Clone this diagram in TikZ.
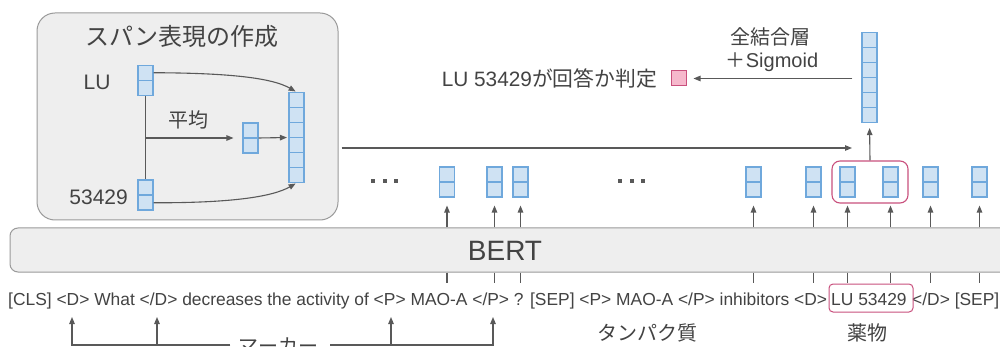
\documentclass[tikz,border=0pt]{standalone}
\usepackage{fontspec}
\setmainfont{Liberation Sans}
\newfontfamily\jp{Noto Sans CJK JP}
\usetikzlibrary{arrows.meta,calc}
\definecolor{vf}{HTML}{CFE2F3}
\definecolor{vb}{HTML}{6FA8DC}
\definecolor{boxg}{HTML}{EEEEEE}
\definecolor{boxb}{HTML}{9A9A9A}
\definecolor{tx}{HTML}{434343}
\definecolor{ln}{HTML}{595959}
\definecolor{pk}{HTML}{F6B8CC}
\definecolor{rd}{HTML}{C9507D}
\tikzset{
  cell/.style={draw=vb, fill=vf, line width=1.1pt, minimum width=15pt, inner sep=0pt},
  vectwo/.style={cell, minimum height=30pt,
    path picture={\draw[vb, line width=1.1pt] (path picture bounding box.west) -- (path picture bounding box.east);}},
  vecsix/.style={cell, minimum height=90pt,
    path picture={\foreach \i in {1,...,5}{\draw[vb, line width=1.1pt]
      ($(path picture bounding box.south west)!\i/6!(path picture bounding box.north west)$) --
      ($(path picture bounding box.south east)!\i/6!(path picture bounding box.north east)$);}}},
  arr/.style={draw=ln, line width=1.1pt, -{Triangle[length=7pt,width=5.5pt]}},
  plain/.style={draw=ln, line width=1.1pt},
  lbl/.style={text=tx, inner sep=0pt, font=\fontsize{20}{24}\selectfont},
  tok/.style={text=tx, inner sep=0pt, font=\fontsize{17.4}{20}\selectfont},
}
\begin{document}
\begin{tikzpicture}[x=1pt,y=-1pt]
\clip (0,0) rectangle (1000,347);
\fill[white] (0,0) rectangle (1000,347);

% ---- span representation box
\node[draw=boxb, fill=boxg, line width=1pt, rounded corners=18pt,
      minimum width=301pt, minimum height=207pt] (span) at (187.5,116.5) {};
\node[text=tx, inner sep=0pt, font=\jp\fontsize{24}{28}\selectfont] (title) at (182,36) {スパン表現の作成};
\node[lbl, font=\fontsize{21}{24}\selectfont] (lulab) at (97,82) {LU};
\node[lbl, font=\fontsize{21}{24}\selectfont, anchor=east] (numlab) at (128,197) {53429};
\node[vectwo] (luv) at (145.5,80.5) {};
\node[vectwo] (nv) at (145.5,195) {};
\node[vectwo] (avg) at (250.5,138) {};
\node[vecsix] (cat) at (296.5,137.5) {};
\node[lbl, font=\jp\fontsize{20}{24}\selectfont] (avglab) at (188,120) {平均};
\coordinate (mid) at (145.5,138);
\draw[plain] (luv.south) -- (nv.north);
\draw[arr, shorten >=9pt] (mid) -- (avg.west);
\draw[arr, shorten >=1.5pt] (avg.east) -- (cat.west);
\coordinate (s1) at ($(luv.north east)!0.25!(luv.south east)$);
\coordinate (s2) at ($(nv.north east)!0.75!(nv.south east)$);
\draw[arr, shorten >=1pt] (s1) .. controls (230,73) and (272,78) .. (cat.north);
\draw[arr, shorten >=1pt] (s2) .. controls (230,203) and (272,197) .. (cat.south);

% ---- long arrow to the output column
\coordinate (lend) at (852,148);
\draw[arr, shorten <=3pt] (span.east |- lend) -- (lend);

% ---- BERT
\node[draw=boxb, fill=boxg, line width=1pt, rounded corners=8pt,
      minimum width=1000pt, minimum height=44pt] (bert) at (510,250) {};
\node[text=tx, inner sep=0pt, font=\fontsize{28}{32}\selectfont] (berttxt) at (505,251) {BERT};

% ---- output vectors
\foreach \n/\x in {b1/447, b2/494.5, b3/520.5, b4/753.5, b5/813.5, b6/847.5, b7/890.5, b8/930.5, b9/979.5}{
  \node[vectwo] (\n) at (\x,182) {};
  \draw[arr, shorten >=8pt] (bert.north -| \n) -- (\n.south);
  \draw[plain] (bert.south -| \n) -- ++(0,10);
}
\foreach \dx in {-11.5,0,11.5}{
  \fill[ln] (384.5+\dx-2,179) rectangle ++(4,4);
  \fill[ln] (631.5+\dx-2,179) rectangle ++(4,4);
}

% ---- selected span and classifier
\node[draw=rd, line width=1.1pt, rounded corners=8pt, minimum width=76pt, minimum height=42pt] (sel) at (870,182) {};
\node[vecsix] (big) at (869.5,77.5) {};
\draw[arr, shorten >=5pt] (sel.north) -- (big.south);
\node[draw=rd, fill=pk, line width=1pt, minimum width=15pt, minimum height=15pt, inner sep=0pt] (pink) at (678.5,78.5) {};
\draw[arr, shorten <=9pt, shorten >=7pt] (big.west |- pink.east) -- (pink.east);
\node[lbl, font=\jp\fontsize{20}{24}\selectfont] (fc) at (770,37) {全結合層};
\node[lbl] (sig) at (772,62) {{\jp ＋}Sigmoid};
\node[lbl, font=\fontsize{20.8}{24}\selectfont, anchor=east] (judge) at (657,78) {LU 53429{\jp が回答か判定}};

% ---- token sequence
\node[tok, anchor=base west] (t1) at (8,305) {[CLS] <D> What </D> decreases the activity of <P> MAO-A </P> ? [SEP] <P> MAO-A </P> inhibitors <D>};
\node[tok, anchor=base west] (t2) at (831,305) {LU 53429};
\node[tok, anchor=base west] (t3) at (912,305) {</D> [SEP]};
\node[draw=rd, line width=1pt, rounded corners=4pt, minimum width=84pt, minimum height=28pt] (lubox) at (871,298) {};

\node[lbl, font=\jp\fontsize{20}{24}\selectfont] (prot) at (647,333) {タンパク質};
\node[lbl, font=\jp\fontsize{20}{24}\selectfont] (drug) at (867,333) {薬物};

% ---- markers
\node[lbl, font=\jp\fontsize{20}{24}\selectfont] (mk) at (278,346) {マーカー};
\coordinate (mkl) at (230,345);
\coordinate (mkr) at (330,345);
\coordinate (m1) at (72,317);
\coordinate (m2) at (157,317);
\coordinate (m3) at (391,317);
\coordinate (m4) at (493,317);
\draw[arr] (mkl) -| (m1);
\draw[arr] (mkl) -| (m2);
\draw[arr] (mkr) -| (m3);
\draw[arr] (mkr) -| (m4);
\end{tikzpicture}
\end{document}
